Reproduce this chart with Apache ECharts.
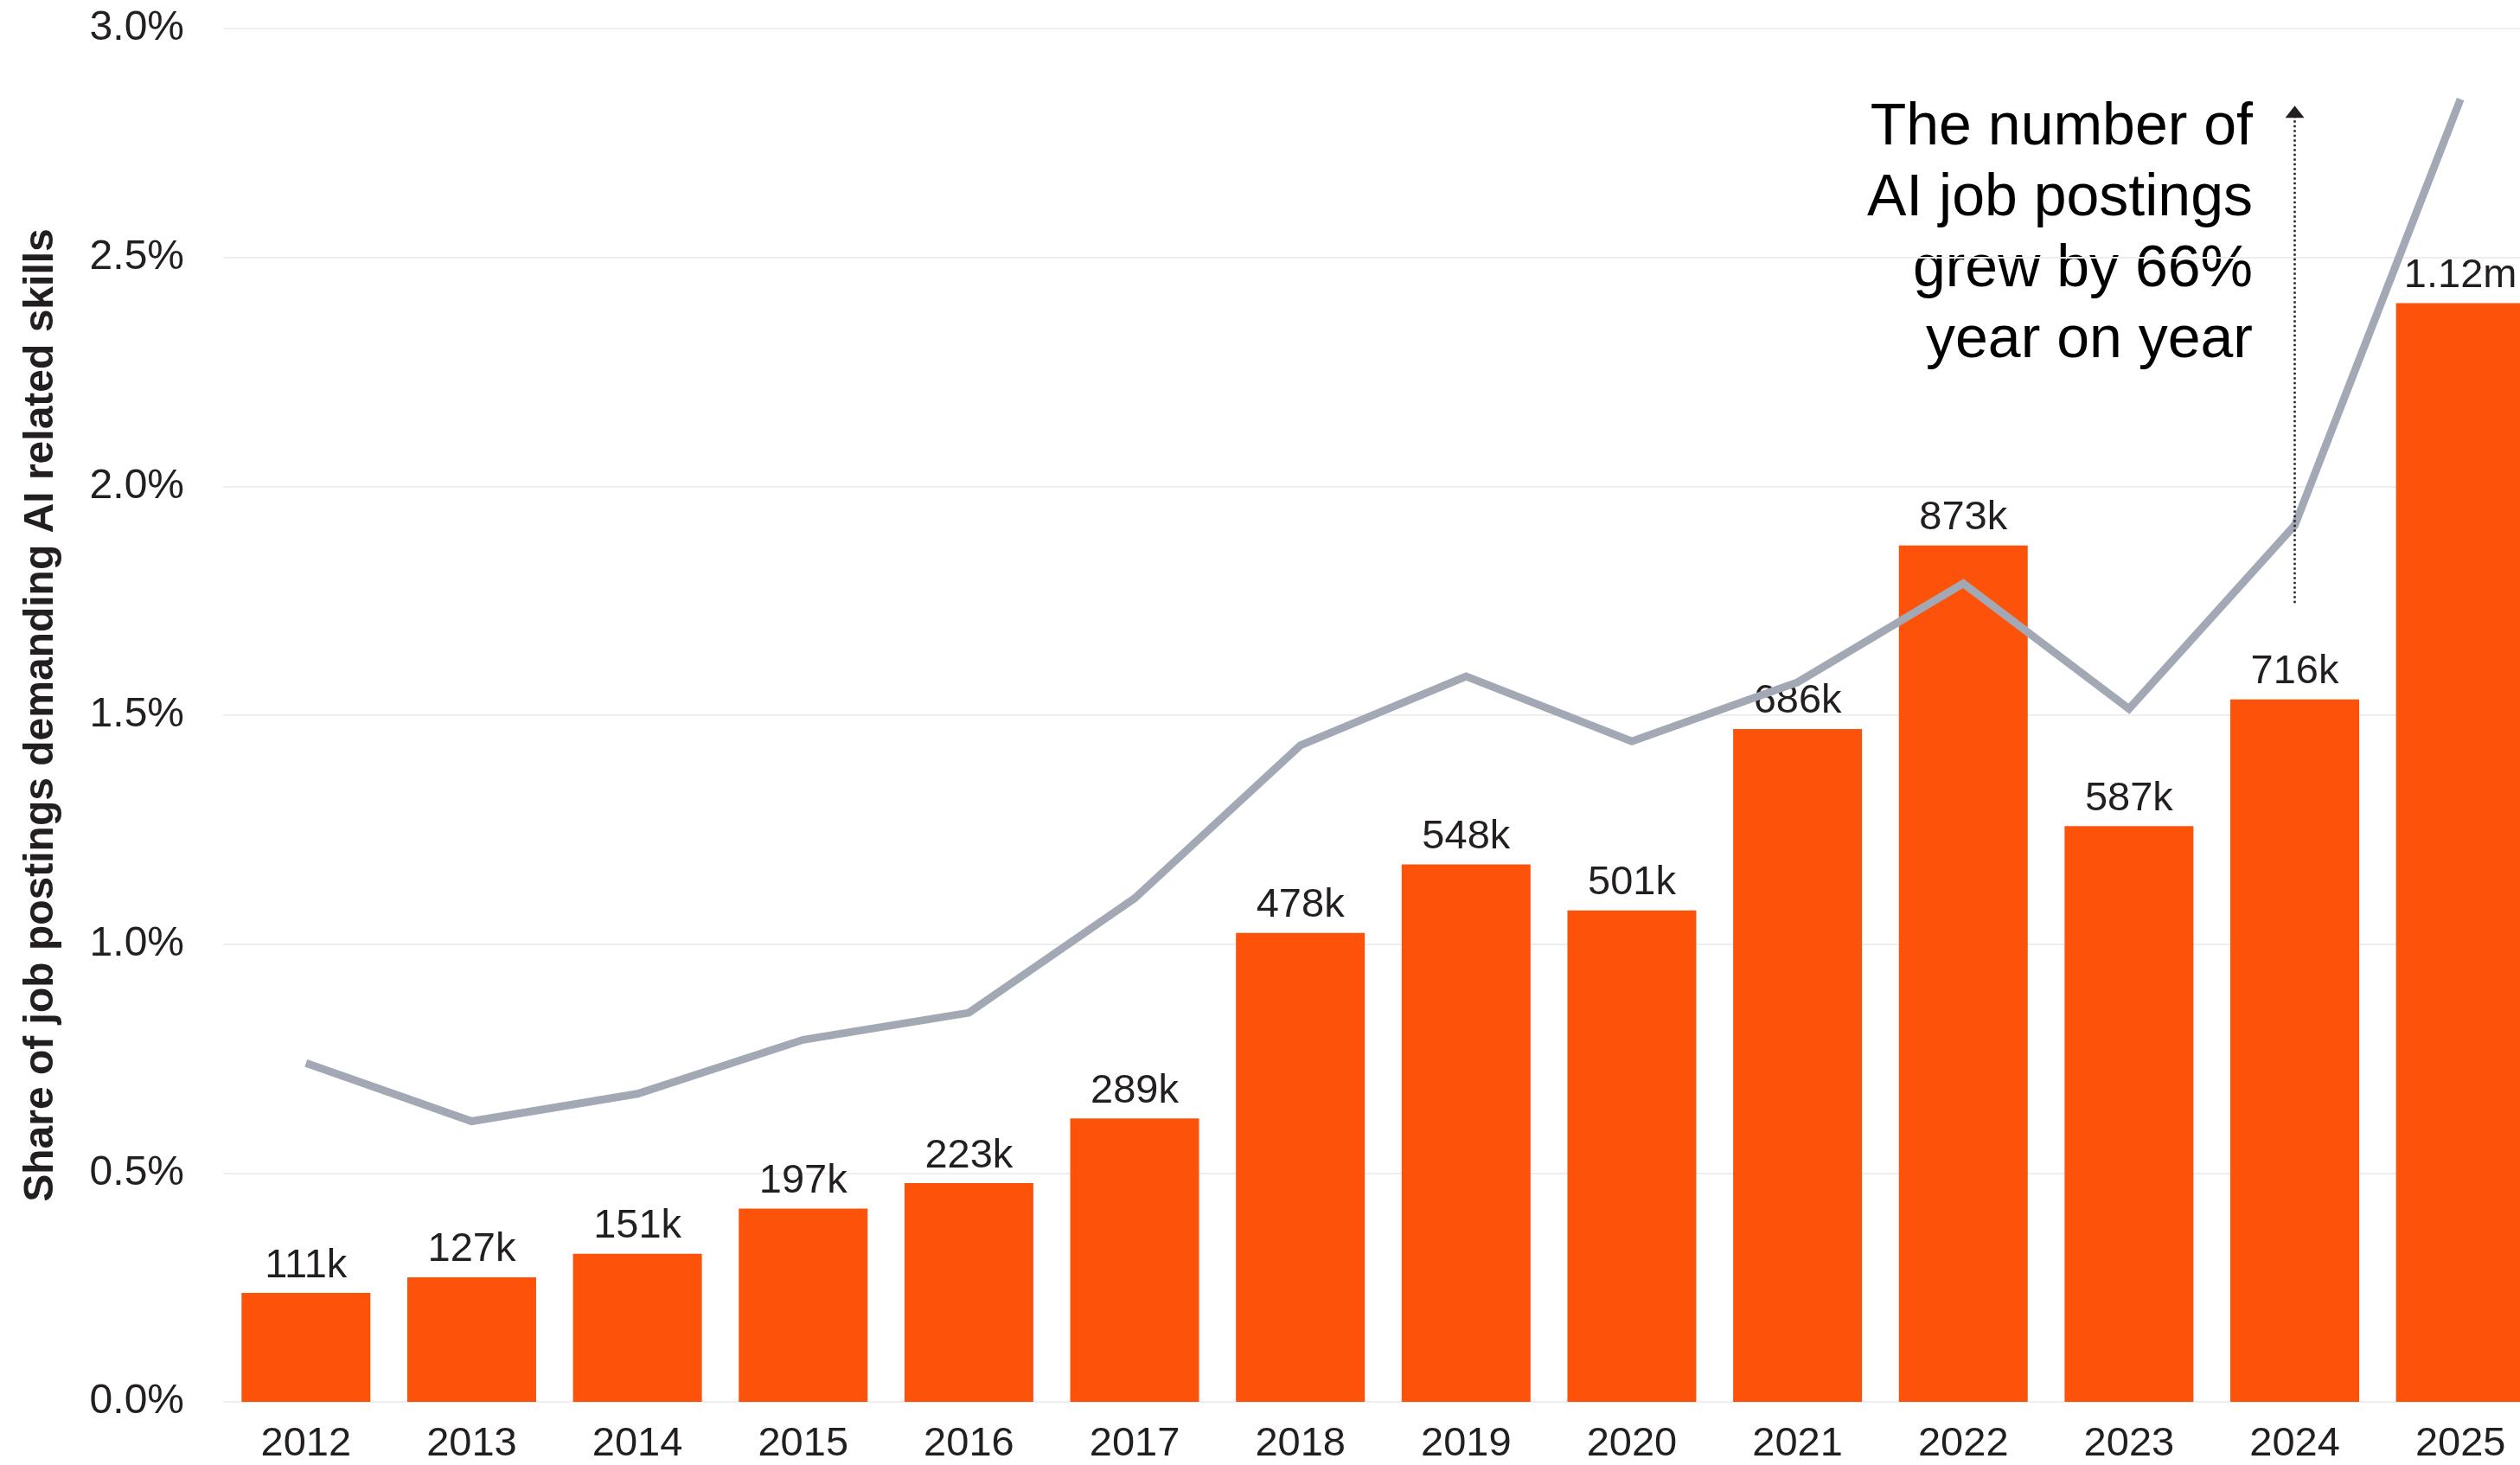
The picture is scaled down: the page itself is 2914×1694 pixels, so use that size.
<!DOCTYPE html>
<html>
<head>
<meta charset="utf-8">
<title>AI job postings</title>
<script src="https://cdn.jsdelivr.net/npm/echarts@6/dist/echarts.min.js"></script>
<style>
  html, body { margin: 0; padding: 0; background: #ffffff; overflow: hidden; }
  /* the last column runs slightly past the right edge of the page */
  #chart { width: 2942px; height: 1694px; }
</style>
</head>
<body>
<div id="chart"></div>
<script>
// Years on the category axis
const years = ['2012', '2013', '2014', '2015', '2016', '2017', '2018',
               '2019', '2020', '2021', '2022', '2023', '2024', '2025'];

// Number of AI job postings, in thousands (bars)
const postingsK = [111, 127, 151, 197, 223, 289, 478, 548, 501, 686, 873, 587, 716, 1120];

// Share of job postings demanding AI related skills, in percent (line)
const sharePct = [0.740, 0.613, 0.673, 0.791, 0.850, 1.10, 1.434, 1.585,
                  1.443, 1.572, 1.788, 1.514, 1.915, 2.846];

// Left axis ticks, in percent
const shareTicks = [0, 0.5, 1.0, 1.5, 2.0, 2.5, 3.0];

// Annotation: arrow span on the 2024 column (percent scale) and its text
const arrowYear = '2024';
const arrowFrom = 1.745;
const arrowTo = 2.818;
const noteLines = ['The number of', 'AI job postings', 'grew by 66%', 'year on year'];

const FONT = '"Liberation Sans", Arial, Helvetica, sans-serif';
const INK = '#231f20';

function fmtPostings(v) {
  return v >= 1000 ? (v / 1000).toFixed(2) + 'm' : v + 'k';
}

const chart = echarts.init(document.getElementById('chart'), null, { renderer: 'canvas' });

chart.setOption({
  animation: false,
  backgroundColor: '#ffffff',
  textStyle: { fontFamily: FONT },
  grid: { left: 258, top: 33, width: 2683, height: 1590, containLabel: false },
  xAxis: {
    type: 'category',
    data: years,
    boundaryGap: true,
    axisLine: { show: false },
    axisTick: { show: false },
    axisLabel: { color: INK, fontSize: 47, fontFamily: FONT, margin: 26 }
  },
  yAxis: [
    {
      type: 'value',
      min: shareTicks[0],
      max: shareTicks[shareTicks.length - 1],
      interval: shareTicks[1] - shareTicks[0],
      name: 'Share of job postings demanding AI related skills',
      nameLocation: 'middle',
      nameGap: 186,
      nameTextStyle: { color: INK, fontSize: 48, fontWeight: 'bold', fontFamily: FONT },
      axisLine: { show: false },
      axisTick: { show: false },
      axisLabel: {
        color: INK, fontSize: 48, fontFamily: FONT, margin: 45,
        formatter: v => v.toFixed(1) + '%'
      },
      splitLine: { show: true, lineStyle: { color: '#eeeeee', width: 2 } }
    },
    {
      type: 'value',
      show: false,
      min: 0,
      max: 1400,
      splitLine: { show: false }
    }
  ],
  graphic: [
    {
      type: 'text',
      x: 2605,
      y: 107,
      silent: true,
      style: {
        text: noteLines.join('\n'),
        align: 'right',
        verticalAlign: 'top',
        fontSize: 68,
        fontFamily: FONT,
        lineHeight: 82,
        fill: '#000000'
      }
    }
  ],
  series: [
    {
      name: 'AI job postings',
      type: 'bar',
      yAxisIndex: 1,
      data: postingsK,
      barWidth: 149,
      itemStyle: { color: '#fc520a' },
      label: {
        show: true,
        position: 'top',
        distance: 8,
        color: INK,
        fontSize: 47,
        fontFamily: FONT,
        formatter: p => fmtPostings(p.value)
      },
      z: 2
    },
    {
      name: 'Share of postings',
      type: 'line',
      yAxisIndex: 0,
      data: sharePct,
      symbol: 'none',
      lineStyle: { color: '#a2a9b4', width: 9, join: 'miter', cap: 'butt' },
      z: 4,
      markLine: {
        silent: true,
        symbol: ['none', 'triangle'],
        symbolSize: [22, 14],
        label: { show: false },
        lineStyle: { color: INK, width: 2.5, type: [2.5, 3] },
        emphasis: { disabled: true },
        data: [
          [
            { coord: [arrowYear, arrowFrom] },
            { coord: [arrowYear, arrowTo] }
          ]
        ]
      }
    }
  ]
});
</script>
</body>
</html>
